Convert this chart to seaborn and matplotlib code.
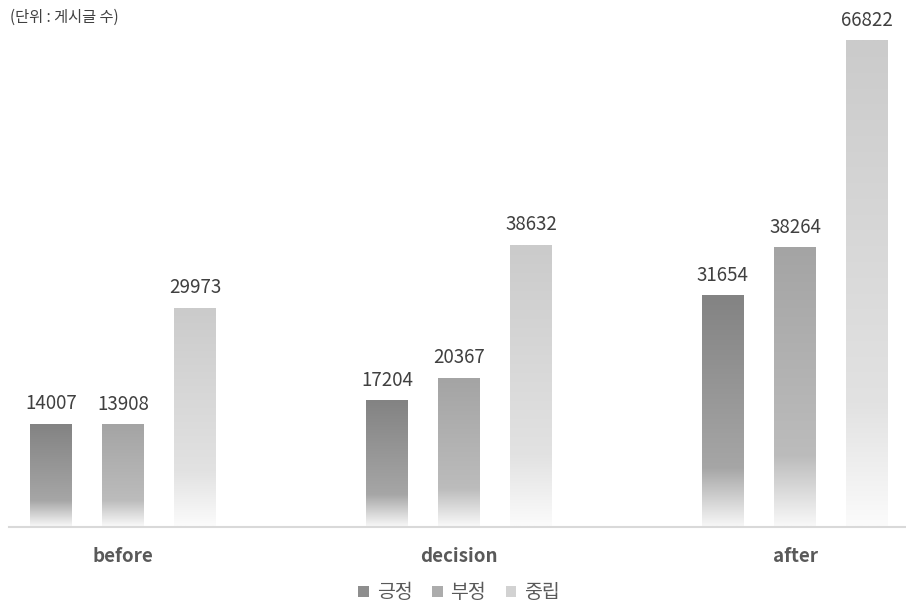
import numpy as np
import pandas as pd
import matplotlib
matplotlib.use("Agg")
import matplotlib.pyplot as plt
from matplotlib.patches import Patch
from matplotlib.colors import to_rgb
import seaborn as sns

periods = ["before", "decision", "after"]
sentiments = ["긍정", "부정", "중립"]
positive = [14007, 17204, 31654]
negative = [13908, 20367, 38264]
neutral = [29973, 38632, 66822]
unit_note = "(단위 : 게시글 수)"

top_colors = ["#838383", "#a4a4a4", "#cbcbcb"]
mid_colors = ["#a6a6a6", "#bcbcbc", "#e2e2e2"]
bot_colors = ["#f6f6f6", "#f8f8f8", "#fbfbfb"]
legend_colors = ["#8e8e8e", "#acacac", "#d2d2d2"]

df = pd.DataFrame({
    "period": np.repeat(periods, 3),
    "sentiment": sentiments * 3,
    "count": [v for trio in zip(positive, negative, neutral) for v in trio],
})

sns.set_theme(style="white")
plt.rcParams["font.family"] = ["Noto Sans CJK KR", "DejaVu Sans"]

W, H = 906, 605
fig = plt.figure(figsize=(W / 100, H / 100), dpi=100)
ax = fig.add_axes([9 / W, 78.5 / H, (W - 9) / W, (H - 78.5) / H])

sns.barplot(data=df, x="period", y="count", hue="sentiment", order=periods,
            hue_order=sentiments, palette=top_colors, width=0.643, gap=0.417,
            legend=False, ax=ax)


def gradient(c_top, c_mid, c_bot, n=200, split=0.75):
    t = np.linspace(0, 1, n)
    a, b, c = (np.array(to_rgb(x)) for x in (c_top, c_mid, c_bot))
    out = np.empty((n, 1, 3))
    for i, v in enumerate(t):
        if v <= split:
            f = v / split
            out[i, 0] = a + (b - a) * f
        else:
            f = (v - split) / (1 - split)
            out[i, 0] = b + (c - b) * f
    return out


for k, cont in enumerate(ax.containers):
    img = gradient(top_colors[k], mid_colors[k], bot_colors[k])
    for bar in cont:
        x0 = bar.get_x()
        w = bar.get_width()
        h = bar.get_height()
        bar.set_alpha(0)
        ax.imshow(img, extent=(x0, x0 + w, 0, h), origin="upper", aspect="auto",
                  interpolation="bilinear", zorder=2)
        ax.annotate(f"{int(h)}", (x0 + w / 2, h), xytext=(0, 7.5),
                    textcoords="offset points", ha="center", va="bottom",
                    fontsize=13.5, color="#404040")

ax.set_xlim(-114 / 336, 783 / 336)
ax.set_ylim(0, 72460)
ax.set_xlabel("")
ax.set_ylabel("")
ax.set_yticks([])
for s in ["top", "left", "right"]:
    ax.spines[s].set_visible(False)
ax.spines["bottom"].set_color("#d9d9d9")
ax.spines["bottom"].set_linewidth(1.5)
ax.tick_params(axis="x", length=0, pad=15)
for lab in ax.get_xticklabels():
    lab.set_fontweight("bold")
    lab.set_fontsize(13.5)
    lab.set_color("#595959")

fig.text(10 / W, 1 - 17 / H, unit_note, fontsize=11, color="#404040",
         ha="left", va="center")

handles = [Patch(facecolor=c, edgecolor="none", label=s)
           for c, s in zip(legend_colors, sentiments)]
fig.legend(handles=handles, loc="center", bbox_to_anchor=(459 / W, 1 - 593 / H),
           ncol=3, frameon=False, fontsize=14, handlelength=0.55,
           handleheight=0.55, handletextpad=0.4, columnspacing=1.0,
           labelcolor="#595959")

fig.savefig("out.png", dpi=100)
